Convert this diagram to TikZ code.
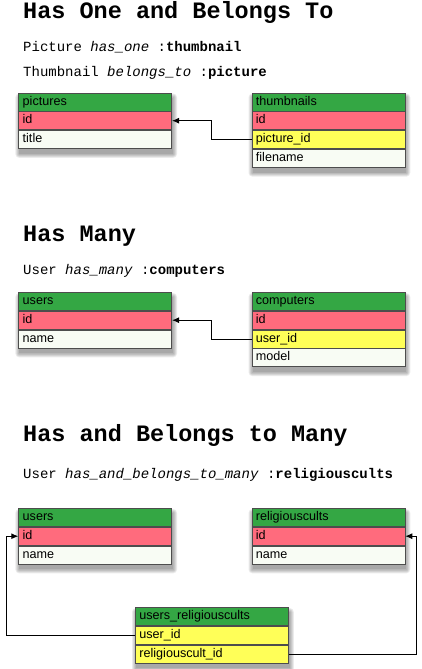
\documentclass[tikz,border=0pt]{standalone}
\usepackage{fontspec}
\setmainfont{Liberation Sans}
\newfontfamily\codefont{Liberation Mono}
\usetikzlibrary{arrows.meta,calc,backgrounds}
\pgfdeclarelayer{paper}
\pgfsetlayers{paper,background,main}
\definecolor{hdrgreen}{HTML}{34A744}
\definecolor{pkred}{HTML}{FF6B7D}
\definecolor{fkyellow}{HTML}{FFFF58}
\definecolor{rowwhite}{HTML}{F8FCF4}
\definecolor{bordergray}{HTML}{4D4D4D}
\newcommand\tblshadow[2]{%
  \foreach \s in {0,1,2,3,4}{%
    \fill[black,opacity=0.08,rounded corners=\s pt]
      ($(#1.north west)+(1-\s,5-\s)$) rectangle ($(#2.south east)+(1+\s,5+\s)$);
  }%
}
\tikzset{
  cell/.style={draw=bordergray, line width=0.8pt, minimum height=18pt,
    text width=145pt, inner xsep=4pt, inner ysep=0pt, align=left,
    anchor=north west, font=\fontsize{12.6}{14}\selectfont,
    text height=9pt, text depth=2.8pt},
  hdr/.style={cell, fill=hdrgreen},
  pk/.style={cell, fill=pkred},
  fk/.style={cell, fill=fkyellow},
  plainrow/.style={cell, fill=rowwhite},
  title/.style={anchor=base west, inner sep=0pt,
    font=\codefont\bfseries\fontsize{23.5}{28}\selectfont},
  subtitle/.style={anchor=base west, inner sep=0pt,
    font=\codefont\fontsize{14}{16}\selectfont},
  link/.style={draw=black, line width=0.9pt, -{Latex[length=7pt,width=6pt]}},
}
\begin{document}
\begin{tikzpicture}[x=1pt,y=-1pt]
\useasboundingbox (0,0) rectangle (422,669);
\begin{pgfonlayer}{paper}
  \fill[white] (0,0) rectangle (422,669);
\end{pgfonlayer}

% ---------- Has One and Belongs To ----------
\node[title] (t1) at (23,19) {Has One and Belongs To};
\node[subtitle] (s1a) at (23,52) {Picture \textit{has\_one} :\textbf{thumbnail}};
\node[subtitle] (s1b) at (23,76) {Thumbnail \textit{belongs\_to} :\textbf{picture}};

\node[hdr] (p0) at (18.3,92.5) {pictures};
\node[pk] (p1) at (p0.south west) {id};
\node[plainrow] (p2) at (p1.south west) {title};

\node[hdr] (t0) at (251.5,92.5) {thumbnails};
\node[pk] (tb1) at (t0.south west) {id};
\node[fk] (tb2) at (tb1.south west) {picture\_id};
\node[plainrow] (tb3) at (tb2.south west) {filename};

\draw[link] (tb2.west) -- ++(-40,0) |- (p1.east);

% ---------- Has Many ----------
\node[title] (t2) at (23,241) {Has Many};
\node[subtitle] (s2) at (23,274) {User \textit{has\_many} :\textbf{computers}};

\node[hdr] (u0) at (18.3,292) {users};
\node[pk] (u1) at (u0.south west) {id};
\node[plainrow] (u2) at (u1.south west) {name};

\node[hdr] (c0) at (251.5,292) {computers};
\node[pk] (c1) at (c0.south west) {id};
\node[fk] (c2) at (c1.south west) {user\_id};
\node[plainrow] (c3) at (c2.south west) {model};

\draw[link] (c2.west) -- ++(-40,0) |- (u1.east);

% ---------- Has and Belongs to Many ----------
\node[title] (t3) at (23,441) {Has and Belongs to Many};
\node[subtitle] (s3) at (23,478) {User \textit{has\_and\_belongs\_to\_many} :\textbf{religiouscults}};

\node[hdr] (h0) at (18.3,508) {users};
\node[pk] (h1) at (h0.south west) {id};
\node[plainrow] (h2) at (h1.south west) {name};

\node[hdr] (r0) at (251.5,508) {religiouscults};
\node[pk] (r1) at (r0.south west) {id};
\node[plainrow] (r2) at (r1.south west) {name};

\node[hdr] (j0) at (135,607) {users\_religiouscults};
\node[fk] (j1) at (j0.south west) {user\_id};
\node[fk] (j2) at (j1.south west) {religiouscult\_id};

\coordinate (lbend) at (6.7,0);
\coordinate (rbend) at (416,0);
\draw[link] (j1.west) -- (j1.west -| lbend) |- (h1.west);
\draw[link] (j2.east) -- (j2.east -| rbend) |- (r1.east);

% ---------- shadows ----------
\begin{scope}[on background layer]
  \tblshadow{p0}{p2}
  \tblshadow{t0}{tb3}
  \tblshadow{u0}{u2}
  \tblshadow{c0}{c3}
  \tblshadow{h0}{h2}
  \tblshadow{r0}{r2}
  \tblshadow{j0}{j2}
\end{scope}
\end{tikzpicture}
\end{document}
